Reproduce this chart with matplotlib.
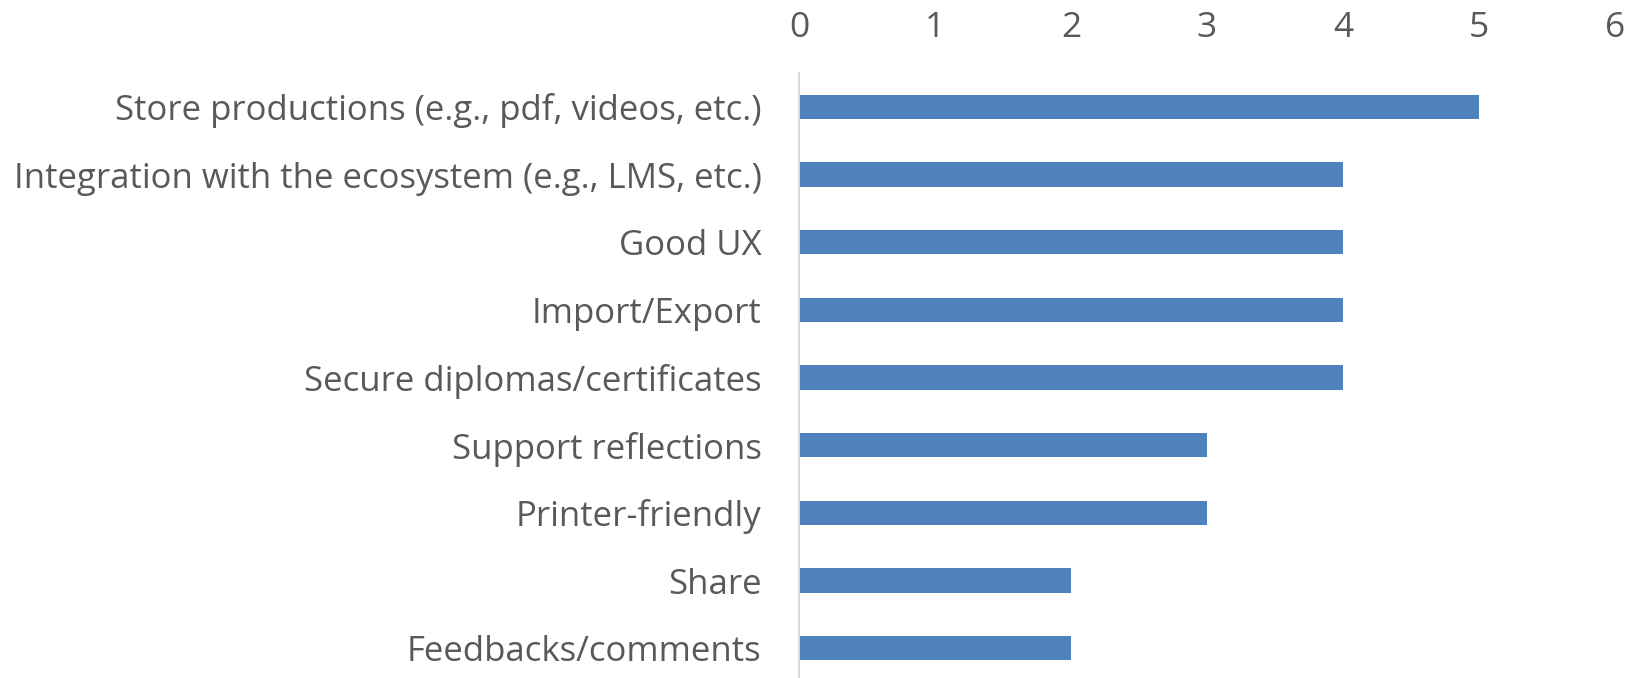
import matplotlib.pyplot as plt

# features, top to bottom
features = [
    "Store productions (e.g., pdf, videos, etc.)",
    "Integration with the ecosystem (e.g., LMS, etc.)",
    "Good UX",
    "Import/Export",
    "Secure diplomas/certificates",
    "Support reflections",
    "Printer-friendly",
    "Share",
    "Feedbacks/comments",
]
counts = [5, 4, 4, 4, 4, 3, 3, 2, 2]
x_ticks = [0, 1, 2, 3, 4, 5, 6]

plt.rcParams['font.family'] = ['Open Sans', 'DejaVu Sans']

fig = plt.figure(figsize=(16.32, 6.78), dpi=100)
ax = fig.add_axes([799 / 1632, 0, 816 / 1632, 605 / 678])

ypos = list(range(len(features)))
ax.barh(ypos, counts, height=0.36, color="#4F81BD")

ax.set_xlim(0, 6)
ax.set_ylim(8.44, -0.5)
ax.set_xticks(x_ticks)
ax.set_yticks(ypos)
ax.set_yticklabels(features)

ax.xaxis.tick_top()
ax.tick_params(axis='x', length=0, pad=20, labelsize=25.5, labelcolor="#595959")
ax.tick_params(axis='y', length=0, pad=27, labelsize=25, labelcolor="#595959")

for s in ['top', 'right', 'bottom']:
    ax.spines[s].set_visible(False)
ax.spines['left'].set_color("#D9D9D9")
ax.spines['left'].set_linewidth(1.5)

fig.savefig("out.png", dpi=100)
